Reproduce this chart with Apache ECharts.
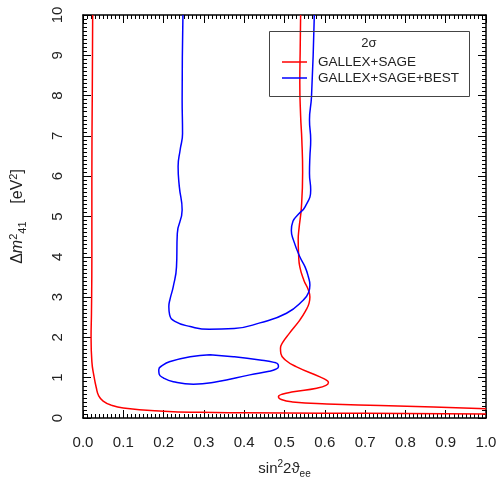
<!DOCTYPE html>
<html>
<head>
<meta charset="utf-8">
<script src="https://cdn.jsdelivr.net/npm/echarts@6/dist/echarts.min.js"></script>
<style>
  html, body { margin: 0; padding: 0; background: #fff; }
  #chart { width: 499px; height: 480px; }
</style>
</head>
<body>
<div id="chart"></div>
<script>
  // contour points: [sin^2 2theta, dm2]
  var redLeft = [
    [0.024, 10], [0.023, 8], [0.022, 6], [0.022, 4], [0.021, 2.6], [0.020, 2.0],
    [0.022, 1.4], [0.027, 1.05], [0.033, 0.75], [0.039, 0.55], [0.05, 0.42], [0.07, 0.32],
    [0.1, 0.25], [0.2, 0.17], [0.29, 0.14], [0.4, 0.13], [0.6, 0.12], [0.8, 0.11], [1.0, 0.10]
  ];
  var redRight = [
    [0.540, 10], [0.539, 9.2], [0.538, 8.3], [0.540, 7.5], [0.543, 6.9], [0.545, 6.1],
    [0.542, 5.24], [0.536, 4.7], [0.534, 4.42], [0.535, 4.05], [0.538, 3.75], [0.548, 3.42],
    [0.559, 3.18], [0.563, 3.0], [0.561, 2.85], [0.552, 2.65], [0.538, 2.43], [0.512, 2.10],
    [0.496, 1.88], [0.490, 1.73], [0.491, 1.60], [0.502, 1.44], [0.530, 1.27],
    [0.588, 1.02], [0.604, 0.94], [0.609, 0.88], [0.603, 0.81], [0.580, 0.74],
    [0.522, 0.65], [0.494, 0.59], [0.485, 0.53], [0.492, 0.46], [0.520, 0.40],
    [0.605, 0.35], [0.737, 0.31], [0.87, 0.27], [1.0, 0.23]
  ];
  var blueOpen = [
    [0.248, 10], [0.246, 7.9], [0.247, 7.06], [0.241, 6.65], [0.236, 6.24], [0.239, 5.74],
    [0.246, 5.16], [0.234, 4.58], [0.232, 3.75], [0.224, 3.26], [0.216, 2.95], [0.213, 2.76],
    [0.215, 2.56], [0.228, 2.40], [0.266, 2.27], [0.313, 2.20], [0.375, 2.22], [0.439, 2.36],
    [0.505, 2.60], [0.547, 2.93], [0.560, 3.12], [0.563, 3.3], [0.559, 3.51], [0.551, 3.75],
    [0.538, 4.0], [0.522, 4.42], [0.517, 4.65], [0.521, 4.88], [0.535, 5.06], [0.551, 5.24],
    [0.565, 5.66], [0.562, 6.07], [0.563, 6.48], [0.565, 6.9], [0.562, 7.4],
    [0.567, 7.97], [0.574, 10]
  ];
  var blueIsland = [
    [0.315, 1.57], [0.373, 1.52], [0.439, 1.44], [0.474, 1.38], [0.484, 1.33], [0.485, 1.27],
    [0.478, 1.21], [0.462, 1.16], [0.414, 1.07], [0.332, 0.90], [0.274, 0.84], [0.224, 0.90],
    [0.200, 0.99], [0.189, 1.09], [0.188, 1.20], [0.198, 1.31], [0.216, 1.40], [0.266, 1.52],
    [0.315, 1.57]
  ];
  var xTicks = ['0.0', '0.1', '0.2', '0.3', '0.4', '0.5', '0.6', '0.7', '0.8', '0.9', '1.0'];

  var font = 'Liberation Sans, Arial, sans-serif';
  var chart = echarts.init(document.getElementById('chart'));

  function axisBase(pos, min, max, step, labels) {
    return {
      type: 'value', position: pos, min: min, max: max, interval: step,
      axisLine: { show: true, onZero: false, lineStyle: { color: '#000', width: 1.5 } },
      axisTick: { show: true, inside: true, length: 8, lineStyle: { color: '#000', width: 1 } },
      minorTick: { show: true, splitNumber: 10, length: 4, lineStyle: { color: '#000', width: 1 } },
      splitLine: { show: false },
      axisLabel: { show: labels }
    };
  }

  var xb = axisBase('bottom', 0, 1, 0.1, true);
  xb.axisLabel = {
    show: true, margin: 17, fontSize: 15, color: '#222', fontFamily: font,
    formatter: function (v) { return xTicks[Math.round(v * 10)]; }
  };
  xb.name = '{a|sin}{sup|2}{a|2ϑ}{sub|ee}';
  xb.nameLocation = 'middle';
  xb.nameGap = 41;
  xb.nameTextStyle = {
    rich: {
      a: { fontSize: 15, color: '#222', fontFamily: font, lineHeight: 20 },
      sup: { fontSize: 10, color: '#222', fontFamily: font, verticalAlign: 'top', lineHeight: 20 },
      sub: { fontSize: 10, color: '#222', fontFamily: font, verticalAlign: 'bottom', lineHeight: 16 }
    }
  };
  var xt = axisBase('top', 0, 1, 0.1, false);

  var yl = axisBase('left', 0, 10, 1, true);
  yl.axisLabel = { show: true, rotate: 90, margin: 18, fontSize: 15, color: '#222', fontFamily: font };
  yl.name = '{a|Δ}{i|m}{sup|2}{sub|41}{a|    [eV}{sup|2}{a|]}';
  yl.nameLocation = 'middle';
  yl.nameGap = 55;
  yl.nameTextStyle = {
    rich: {
      a: { fontSize: 16, color: '#222', fontFamily: font, lineHeight: 20 },
      i: { fontSize: 16, color: '#222', fontFamily: font, fontStyle: 'italic', lineHeight: 20 },
      sup: { fontSize: 11, color: '#222', fontFamily: font, verticalAlign: 'top', lineHeight: 20 },
      sub: { fontSize: 11, color: '#222', fontFamily: font, verticalAlign: 'bottom', lineHeight: 16 }
    }
  };
  var yr = axisBase('right', 0, 10, 1, false);

  function curve(name, data, color) {
    return {
      name: name, type: 'line', data: data, smooth: 0.5, showSymbol: false,
      symbol: 'none', xAxisIndex: 0, yAxisIndex: 0, animation: false,
      lineStyle: { color: color, width: 1.5 }, itemStyle: { color: color }
    };
  }

  chart.setOption({
    animation: false,
    grid: { left: 83, right: 13, top: 15, bottom: 62, outerBoundsMode: 'none' },
    xAxis: [xb, xt],
    yAxis: [yl, yr],
    legend: {
      data: ['GALLEX+SAGE', 'GALLEX+SAGE+BEST'],
      orient: 'vertical', left: 282, top: 55, padding: 0,
      icon: 'rect', itemWidth: 25, itemHeight: 1.5, itemGap: 2,
      selectedMode: false,
      textStyle: { fontSize: 13.5, color: '#222', fontFamily: font, padding: [0, 0, 0, 6] }
    },
    graphic: [
      { type: 'rect', shape: { x: 269.5, y: 31.5, width: 200, height: 65 },
        style: { fill: 'none', stroke: '#444', lineWidth: 1 }, z: 100 },
      { type: 'text', x: 369, y: 43, z: 100,
        style: { text: '2σ', fontSize: 13, fill: '#222', fontFamily: font, align: 'center', verticalAlign: 'middle' } }
    ],
    series: [
      curve('GALLEX+SAGE', redLeft, '#ff0000'),
      curve('GALLEX+SAGE', redRight, '#ff0000'),
      curve('GALLEX+SAGE+BEST', blueOpen, '#0000ff'),
      curve('GALLEX+SAGE+BEST', blueIsland, '#0000ff')
    ]
  });
</script>
</body>
</html>
